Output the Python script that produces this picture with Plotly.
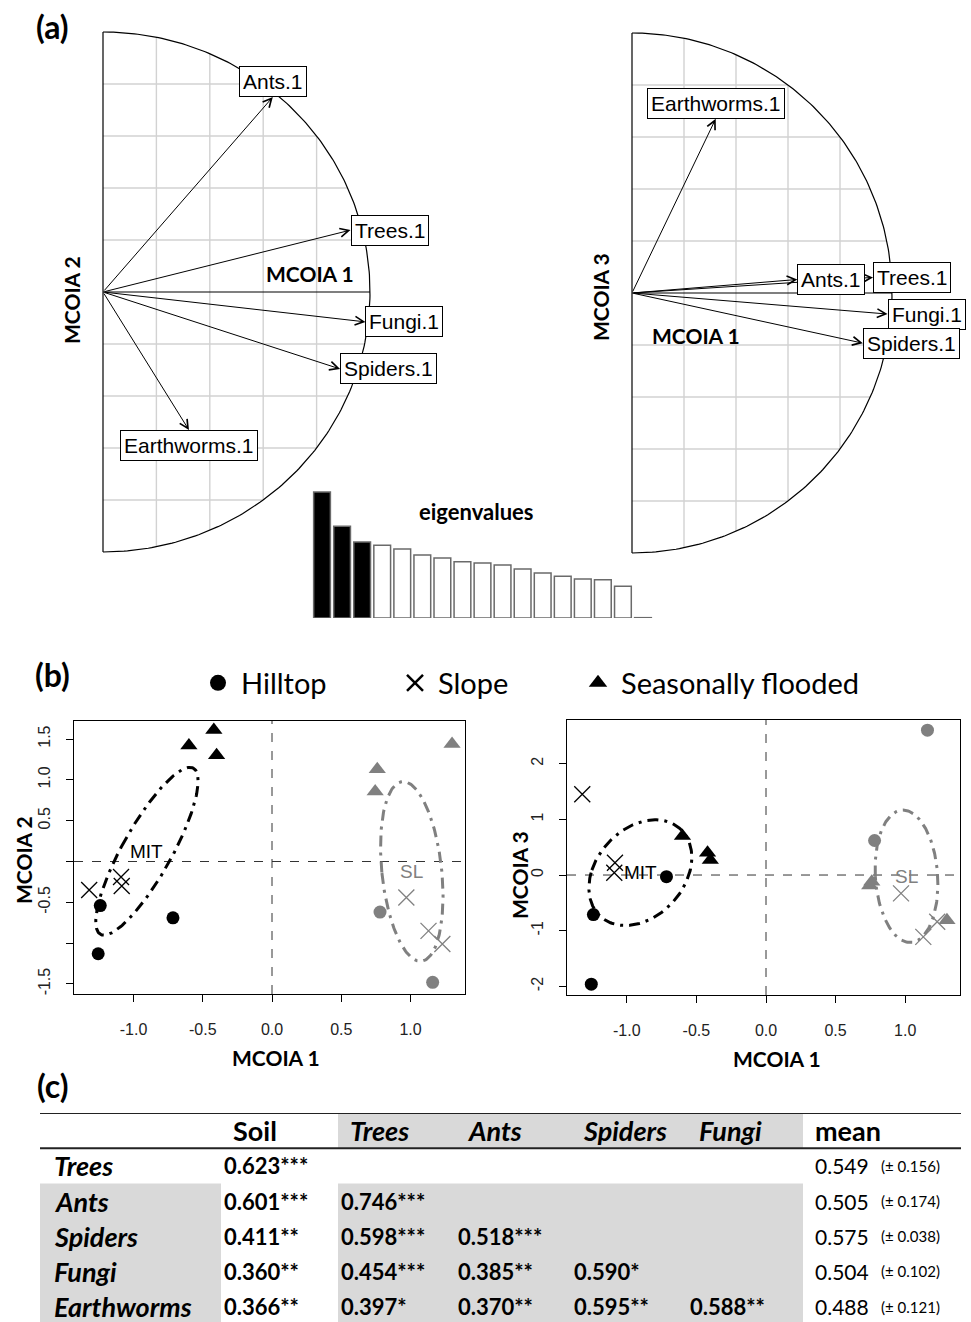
import numpy as np
import plotly.graph_objects as go

W, H = 971, 1322

# ---------------- data ----------------
arrow_labels = ['Trees.1', 'Ants.1', 'Fungi.1', 'Spiders.1', 'Earthworms.1']
load_mcoia1 = [0.927, 0.636, 0.983, 0.888, 0.322]
load_mcoia2 = [0.238, 0.750, -0.115, -0.296, -0.531]
load_mcoia3 = [0.060, 0.052, -0.081, -0.193, 0.670]

eigenvalues = [3.78, 2.75, 2.28, 2.18, 2.07, 1.89, 1.80, 1.69, 1.65,
               1.59, 1.47, 1.35, 1.25, 1.17, 1.15, 0.95, 0.01]
n_axes_kept = 3

hilltop_mit_x = [-1.24, -0.715, -1.255]
hilltop_mit_y2 = [-0.54, -0.69, -1.13]
hilltop_mit_y3 = [-0.71, -0.03, -1.96]
slope_mit_x = [-1.32, -1.09, -1.085]
slope_mit_y2 = [-0.35, -0.19, -0.30]
slope_mit_y3 = [1.45, 0.04, 0.22]
flooded_mit_x = [-0.60, -0.42, -0.40]
flooded_mit_y2 = [1.42, 1.61, 1.30]
flooded_mit_y3 = [0.70, 0.40, 0.27]

hilltop_sl_x = [0.78, 1.16]
hilltop_sl_y2 = [-0.62, -1.48]
hilltop_sl_y3 = [0.62, 2.60]
slope_sl_x = [0.97, 1.13, 1.23]
slope_sl_y2 = [-0.44, -0.85, -1.01]
slope_sl_y3 = [-0.33, -1.11, -0.84]
flooded_sl_x = [0.76, 0.745, 1.30]
flooded_sl_y2 = [1.13, 0.856, 1.44]
flooded_sl_y3 = [-0.12, -0.19, -0.81]

habitats = ['Hilltop', 'Slope', 'Seasonally flooded']
habitat_symbols = ['circle', 'x-thin', 'triangle-up']
groups = ['MIT', 'SL']

table_rows = ['Trees', 'Ants', 'Spiders', 'Fungi', 'Earthworms']
table_header = ['', 'Soil', 'Trees', 'Ants', 'Spiders', 'Fungi', 'mean']
header_italic = [False, False, True, True, True, True, False]
rv_soil = [0.623, 0.601, 0.411, 0.360, 0.366]
sig_soil = ['***', '***', '**', '**', '**']
rv_trees = [None, 0.746, 0.598, 0.454, 0.397]
sig_trees = ['', '***', '***', '***', '*']
rv_ants = [None, None, 0.518, 0.385, 0.370]
sig_ants = ['', '', '***', '**', '**']
rv_spiders = [None, None, None, 0.590, 0.595]
sig_spiders = ['', '', '', '*', '**']
rv_fungi = [None, None, None, None, 0.588]
sig_fungi = ['', '', '', '', '**']
rv_mean = [0.549, 0.505, 0.575, 0.504, 0.488]
rv_sd = [0.156, 0.174, 0.038, 0.102, 0.121]

# ---------------- helpers ----------------
BLACK = '#000000'
GREY = '#808080'
CELLGREY = '#d9d9d9'
SANS = 'Liberation Sans'
CAL = 'Lato'


def xdom(p0, p1):
    return [p0 / W, p1 / W]


def ydom(p0, p1):
    return [1 - p1 / H, 1 - p0 / H]


def px(p):
    return p / W


def py(p):
    return 1 - p / H


fig = go.Figure()
annotations = []
shapes = []


def corcircle(xa, ya):
    t = np.linspace(-np.pi / 2, np.pi / 2, 241)
    gx, gy = [], []
    for g in (0.2, 0.4, 0.6, 0.8):
        h = float(np.sqrt(1 - g * g))
        gx += [g, g, None]
        gy += [-h, h, None]
        for s in (1, -1):
            gx += [0, h, None]
            gy += [s * g, s * g, None]
    fig.add_trace(go.Scatter(x=gx, y=gy, mode='lines', line=dict(color='#d2d2d2', width=1.4),
                             xaxis=xa, yaxis=ya, hoverinfo='skip', showlegend=False))
    fig.add_trace(go.Scatter(x=np.cos(t), y=np.sin(t), mode='lines', line=dict(color=BLACK, width=1.2),
                             xaxis=xa, yaxis=ya, hoverinfo='skip', showlegend=False))
    fig.add_trace(go.Scatter(x=[0, 0, None, 0, 1], y=[-1, 1, None, 0, 0], mode='lines',
                             line=dict(color=BLACK, width=1.2),
                             xaxis=xa, yaxis=ya, hoverinfo='skip', showlegend=False))


def arrows(xa, ya, xs, ys):
    for lab, x, y in zip(arrow_labels, xs, ys):
        annotations.append(dict(x=x, y=y, ax=0, ay=0, xref=xa, yref=ya, axref=xa, ayref=ya,
                                text='', showarrow=True, arrowhead=5, arrowsize=1.7,
                                arrowwidth=1, arrowcolor=BLACK, standoff=0))
        if abs(x) >= abs(y):
            xanc, yanc = ('left' if x > 0 else 'right'), 'middle'
        else:
            xanc, yanc = 'center', ('bottom' if y > 0 else 'top')
        annotations.append(dict(x=x, y=y, xref=xa, yref=ya, text=lab, showarrow=False,
                                xanchor=xanc, yanchor=yanc, bordercolor=BLACK, borderwidth=1,
                                borderpad=3, bgcolor='white',
                                font=dict(family=SANS, size=21, color=BLACK)))


# ---------------- panel (a) ----------------
corcircle('x', 'y')
arrows('x', 'y', load_mcoia1, load_mcoia2)
corcircle('x2', 'y2')
arrows('x2', 'y2', load_mcoia1, load_mcoia3)

bar_colors = [BLACK] * n_axes_kept + ['white'] * (len(eigenvalues) - n_axes_kept)
fig.add_trace(go.Bar(x=list(range(len(eigenvalues))), y=eigenvalues, xaxis='x3', yaxis='y3',
                     marker=dict(color=bar_colors, line=dict(color='#6a6a6a', width=1.5)),
                     showlegend=False, hoverinfo='skip'))

# ---------------- panel (b) ----------------
mit_sets = [(hilltop_mit_x, hilltop_mit_y2, hilltop_mit_y3),
            (slope_mit_x, slope_mit_y2, slope_mit_y3),
            (flooded_mit_x, flooded_mit_y2, flooded_mit_y3)]
sl_sets = [(hilltop_sl_x, hilltop_sl_y2, hilltop_sl_y3),
           (slope_sl_x, slope_sl_y2, slope_sl_y3),
           (flooded_sl_x, flooded_sl_y2, flooded_sl_y3)]


def ellipse(xs, ys, n=200):
    xs = np.asarray(xs, float)
    ys = np.asarray(ys, float)
    cov = np.cov(xs, ys)
    vals, vecs = np.linalg.eigh(cov)
    t = np.linspace(0, 2 * np.pi, n)
    circ = np.vstack([np.cos(t), np.sin(t)])
    pts = vecs @ (np.sqrt(np.maximum(vals, 0))[:, None] * circ)
    return xs.mean() + pts[0], ys.mean() + pts[1]


for xa, ya, k in (('x4', 'y4', 1), ('x5', 'y5', 2)):
    shapes.append(dict(type='line', xref=xa, yref=ya + ' domain', x0=0, x1=0, y0=0, y1=1,
                       line=dict(color='#333333', width=1, dash='dash'), layer='below'))
    shapes.append(dict(type='line', xref=xa + ' domain', yref=ya, x0=0, x1=1, y0=0, y1=0,
                       line=dict(color='#333333', width=1, dash='dash'), layer='below'))
    for gname, sets, col in (('MIT', mit_sets, BLACK), ('SL', sl_sets, GREY)):
        allx, ally = [], []
        for hab, sym, s in zip(habitats, habitat_symbols, sets):
            xs, yv = s[0], s[k]
            allx += xs
            ally += yv
            if sym == 'x-thin':
                mk = dict(symbol=sym, size=16, color=col, line=dict(color=col, width=1.3))
            elif sym == 'circle':
                mk = dict(symbol=sym, size=13, color=col, line=dict(width=0))
            else:
                mk = dict(symbol=sym, size=15, color=col, line=dict(width=0))
            fig.add_trace(go.Scatter(x=xs, y=yv, mode='markers', marker=mk, xaxis=xa, yaxis=ya,
                                     name=hab, showlegend=False, cliponaxis=False))
        ex, ey = ellipse(allx, ally)
        fig.add_trace(go.Scatter(x=ex, y=ey, mode='lines', xaxis=xa, yaxis=ya, showlegend=False,
                                 line=dict(color=col, width=3, dash='11px,6px,3px,6px'),
                                 hoverinfo='skip'))
        annotations.append(dict(x=float(np.mean(allx)), y=float(np.mean(ally)), xref=xa, yref=ya,
                                text=gname, showarrow=False,
                                font=dict(family=SANS, size=19, color=col)))

# legend-only traces (one legend each)
legend_sym_px = [218, 415, 598]
for i, (hab, sym) in enumerate(zip(habitats, habitat_symbols)):
    if sym == 'x-thin':
        mk = dict(symbol=sym, size=16, color=BLACK, line=dict(color=BLACK, width=2.5))
    else:
        mk = dict(symbol=sym, size=17, color=BLACK)
    fig.add_trace(go.Scatter(x=[None], y=[None], mode='markers', marker=mk, name=hab,
                             xaxis='x4', yaxis='y4', showlegend=True,
                             legend='legend' if i == 0 else 'legend%d' % (i + 1)))

# ---------------- panel (c) table, on its own hidden axes ----------------
col_widths = [181, 117, 117, 116, 116, 116, 158]
col_edges = [0]
for w_ in col_widths:
    col_edges.append(col_edges[-1] + w_)
shaded_cols_body = [0, 2, 3, 4, 5]
shaded_cols_head = [2, 3, 4, 5]
shaded_first_body_row = 1  # from 'Ants' onwards
row_px = 35.2
tbl_top, tbl_bot = 1113, 1322
y_bottom = -0.5 + (tbl_bot - tbl_top) / row_px

# shading
for c in shaded_cols_head:
    shapes.append(dict(type='rect', xref='x6', yref='y6', x0=col_edges[c], x1=col_edges[c + 1],
                       y0=-0.5, y1=0.5, fillcolor=CELLGREY, line=dict(width=0), layer='below'))
for c in shaded_cols_body:
    shapes.append(dict(type='rect', xref='x6', yref='y6', x0=col_edges[c], x1=col_edges[c + 1],
                       y0=shaded_first_body_row + 0.5, y1=len(table_rows) + 1,
                       fillcolor=CELLGREY, line=dict(width=0), layer='below'))
for yy in (-0.5, 0.5):
    shapes.append(dict(type='line', xref='x6', yref='y6', x0=0, x1=col_edges[-1], y0=yy, y1=yy,
                       line=dict(color='#222222', width=2)))


def tcell(col, row, text, size, dx, bold=False, italic=False):
    s = text
    if italic:
        s = '<i>%s</i>' % s
    if bold:
        s = '<b>%s</b>' % s
    annotations.append(dict(x=col_edges[col] + dx, y=row, xref='x6', yref='y6', text=s,
                            showarrow=False, xanchor='left', yanchor='middle',
                            font=dict(family=CAL, size=size, color=BLACK)))


for c in range(1, len(table_header)):
    tcell(c, 0, table_header[c], 27, 10, bold=True, italic=header_italic[c])

value_cols = [(rv_soil, sig_soil), (rv_trees, sig_trees), (rv_ants, sig_ants),
              (rv_spiders, sig_spiders), (rv_fungi, sig_fungi)]
for r, name in enumerate(table_rows):
    tcell(0, r + 1, name, 27, 12, bold=True, italic=True)
    for c, (vals, sigs) in enumerate(value_cols):
        if vals[r] is not None:
            tcell(c + 1, r + 1, '%.3f%s' % (vals[r], sigs[r]), 22, 1, bold=True)
    tcell(6, r + 1, '%.3f' % rv_mean[r], 21, 10)
    tcell(6, r + 1, '(\u00b1 %.3f)' % rv_sd[r], 15, 76)

# ---------------- text annotations ----------------


def txt(x, y, s, size, bold=True, angle=0, family=CAL, color=BLACK, xanchor='center'):
    annotations.append(dict(x=px(x), y=py(y), xref='paper', yref='paper', showarrow=False,
                            text='<b>%s</b>' % s if bold else s, textangle=angle,
                            xanchor=xanchor, yanchor='middle',
                            font=dict(family=family, size=size, color=color)))


txt(52, 27, '(a)', 32)
txt(52, 674, '(b)', 32)
txt(53, 1085, '(c)', 32)
txt(71, 300, 'MCOIA 2', 21, angle=-90)
txt(310, 273, 'MCOIA 1', 21)
txt(601, 297, 'MCOIA 3', 21, angle=-90)
txt(696, 335, 'MCOIA 1', 21)
txt(476, 511, 'eigenvalues', 22)
txt(276, 1057, 'MCOIA 1', 21)
txt(23, 860, 'MCOIA 2', 21, angle=-90)
txt(777, 1058, 'MCOIA 1', 21)
txt(519, 875, 'MCOIA 3', 21, angle=-90)

# ---------------- layout ----------------
hidden = dict(visible=False, showgrid=False, zeroline=False, fixedrange=True)
rx, ry = 267.0, 260.0
cxL, cyL = 103.0, 292.0
cxR, cyR, rR = 632.0, 293.0, 260.0

scatter_x = dict(showline=True, mirror=True, linecolor=BLACK, linewidth=1, ticks='outside',
                 ticklen=7, tickwidth=1, tickcolor=BLACK, showgrid=False, zeroline=False,
                 tickvals=[-1, -0.5, 0, 0.5, 1], ticktext=['-1.0', '-0.5', '0.0', '0.5', '1.0'],
                 tickfont=dict(family=SANS, size=16, color='#222'), ticklabelstandoff=14)
scatter_y = dict(showline=True, mirror=True, linecolor=BLACK, linewidth=1, ticks='outside',
                 ticklen=7, tickwidth=1, tickcolor=BLACK, showgrid=False, zeroline=False,
                 tickangle=-90, tickfont=dict(family=SANS, size=16, color='#222'),
                 ticklabelstandoff=10)

leg_common = dict(orientation='h', xanchor='left', yanchor='middle', y=py(683),
                  bgcolor='rgba(0,0,0,0)', borderwidth=0, itemwidth=36,
                  font=dict(family=CAL, size=29, color=BLACK))

fig.update_layout(
    width=W, height=H, margin=dict(l=0, r=0, t=0, b=0),
    paper_bgcolor='white', plot_bgcolor='rgba(0,0,0,0)', showlegend=True, bargap=0.165,
    xaxis=dict(hidden, domain=xdom(80, 470), range=[(80 - cxL) / rx, (470 - cxL) / rx]),
    yaxis=dict(hidden, domain=ydom(15, 570), range=[(cyL - 570) / ry, (cyL - 15) / ry], anchor='x'),
    xaxis2=dict(hidden, domain=xdom(600, 968), range=[(600 - cxR) / rR, (968 - cxR) / rR]),
    yaxis2=dict(hidden, domain=ydom(15, 570), range=[(cyR - 570) / rR, (cyR - 15) / rR], anchor='x2'),
    xaxis3=dict(hidden, domain=xdom(312, 653), range=[-0.5, len(eigenvalues) - 0.5]),
    yaxis3=dict(hidden, domain=ydom(480, 618), range=[0, 138 / 33.33], anchor='x3'),
    xaxis4=dict(scatter_x, domain=xdom(74, 465), range=[-1.4296, 1.3935], anchor='y4'),
    yaxis4=dict(scatter_y, domain=ydom(721, 994), range=[-1.623, 1.721], anchor='x4',
                tickvals=[-1.5, -1, -0.5, 0, 0.5, 1, 1.5],
                ticktext=['-1.5', '', '-0.5', '', '0.5', '1.0', '1.5']),
    xaxis5=dict(scatter_x, domain=xdom(567, 960), range=[-1.4296, 1.3937], anchor='y5'),
    yaxis5=dict(scatter_y, domain=ydom(720, 995), range=[-2.154, 2.783], anchor='x5',
                tickvals=[-2, -1, 0, 1, 2], ticktext=['-2', '-1', '0', '1', '2']),
    xaxis6=dict(hidden, domain=xdom(40, 961), range=[0, col_edges[-1]], anchor='y6'),
    yaxis6=dict(hidden, domain=ydom(tbl_top, tbl_bot), range=[y_bottom, -0.5], anchor='x6'),
    legend=dict(leg_common, x=px(legend_sym_px[0] - 23)),
    legend2=dict(leg_common, x=px(legend_sym_px[1] - 23)),
    legend3=dict(leg_common, x=px(legend_sym_px[2] - 23)),
    annotations=annotations, shapes=shapes,
)

fig.write_html('out.html', config={'displayModeBar': False},
               post_script="document.body.style.margin='0';document.body.style.overflow='hidden';")
